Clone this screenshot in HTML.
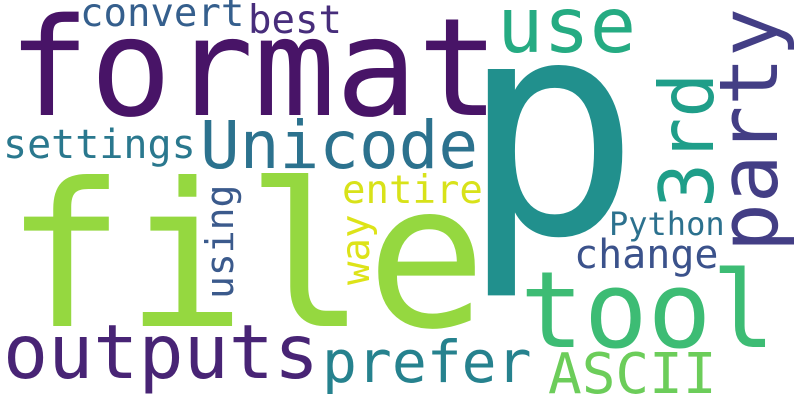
<!DOCTYPE html>
<html><head><meta charset="utf-8"><style>
html,body{margin:0;padding:0;background:#fff;}
svg{display:block;}
text{font-family:"DejaVu Sans Mono","Liberation Mono",monospace;}
</style></head><body>
<svg width="800" height="400">
<rect width="800" height="400" fill="#fff"/>
<text x="8" y="115" font-size="136" fill="#481467">format</text>
<text x="460" y="233" font-size="300" fill="#21908d">p</text>
<text x="5" y="326" font-size="200" fill="#95d840">file</text>
<text x="520" y="347" font-size="106" fill="#3dbc74">tool</text>
<text transform="translate(777,252) rotate(-90)" font-size="81" fill="#433e85">party</text>
<text transform="translate(713,208) rotate(-90)" font-size="75" fill="#1f9e89">3rd</text>
<text x="497" y="52" font-size="77" fill="#25ab82">use</text>
<text x="200" y="168" font-size="66" fill="#2c728e">Unicode</text>
<text x="3" y="158" font-size="40" fill="#2a788e">settings</text>
<text x="3" y="378" font-size="75" fill="#482475">outputs</text>
<text x="322" y="382" font-size="58" fill="#26828e">prefer</text>
<text x="548" y="393" font-size="56" fill="#6ccd5a">ASCII</text>
<text x="574" y="268" font-size="40" fill="#3b528b">change</text>
<text x="609" y="235" font-size="32" fill="#2c718e">Python</text>
<text x="342" y="203" font-size="39" fill="#d8e219">entire</text>
<text transform="translate(369,285) rotate(-90)" font-size="39" fill="#dde318">way</text>
<text transform="translate(233,299) rotate(-90)" font-size="38" fill="#3b5a8c">using</text>
<text x="80" y="26" font-size="39" fill="#355f8d">convert</text>
<text x="248" y="33" font-size="39" fill="#472d7b">best</text>
</svg>
</body></html>
